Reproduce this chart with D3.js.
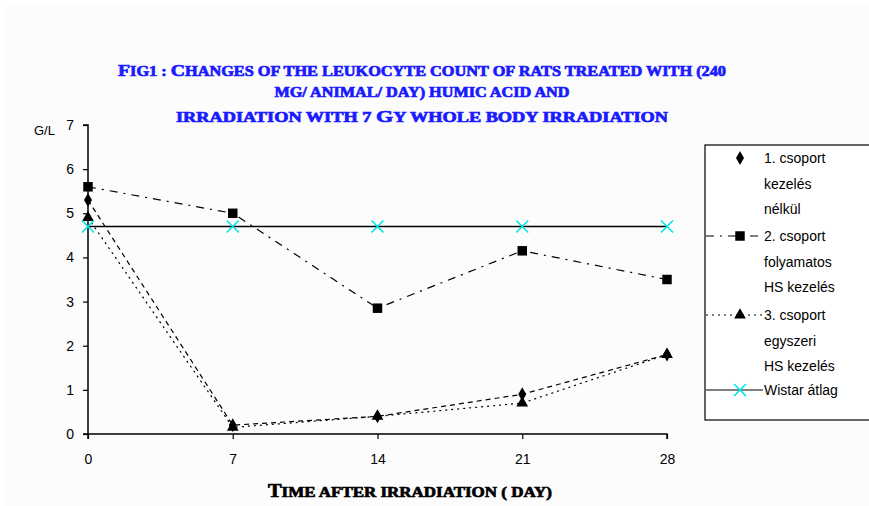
<!DOCTYPE html>
<html><head><meta charset="utf-8">
<script src="https://cdn.jsdelivr.net/npm/d3@7"></script>
<style>body{margin:0;background:#fff}svg{display:block}</style>
</head><body><svg id="c" width="869" height="506"></svg>
<script>
const days = [0, 7, 14, 21, 28];
const xTicks = [0, 7, 14, 21, 28];
const yTicks = [0, 1, 2, 3, 4, 5, 6, 7];
const group1 = [5.3, 0.2, 0.4, 0.9, 1.8];
const group2 = [5.6, 5.0, 2.85, 4.15, 3.5];
const group3 = [4.9, 0.15, 0.4, 0.7, 1.8];
const wistar = [4.7, 4.7, 4.7, 4.7, 4.7];
const titleLines = ["Fig1 : Changes of the leukocyte count of rats treated with (240",
  "mg/ animal/ day) humic acid and",
  "irradiation with 7  Gy whole body irradiation"];
const xTitle = "Time after irradiation ( day)";
const yTitle = "G/L";
const legendLines = [
  ["1. csoport", "kezelés", "nélkül"],
  ["2. csoport", "folyamatos", "HS kezelés"],
  ["3. csoport", "egyszeri", "HS kezelés"],
  ["Wistar átlag"]
];

const svg = d3.select("#c");
svg.append("rect").attr("x",5).attr("y",6).attr("width",864).attr("height",500).attr("fill","#fcfcfc");

const x = d3.scaleLinear().domain([0, 28]).range([88, 667]);
const y = d3.scaleLinear().domain([0, 7]).range([434, 125]);

function capsText(sel, str, big, small){
  str.split(" ").forEach((w, i) => {
    if (i > 0) sel.append("tspan").attr("font-size", small).text(" ");
    const first = w.charAt(0), rest = w.slice(1);
    const isUpper = first !== first.toLowerCase();
    sel.append("tspan").attr("font-size", isUpper ? big : small).text(first.toUpperCase());
    if (rest) sel.append("tspan").attr("font-size", small).text(rest.toUpperCase());
  });
}

// title
const tl = [{t:titleLines[0], y:76, w:608}, {t:titleLines[1], y:97, w:295}, {t:titleLines[2], y:122, w:492}];
tl.forEach(d => {
  const t = svg.append("text").attr("x", 422).attr("y", d.y).attr("text-anchor","middle")
    .attr("font-family","Liberation Serif").attr("font-weight","bold")
    .attr("fill","#1a1aff").attr("stroke","#1a1aff").attr("stroke-width",0.7)
    .attr("textLength", d.w).attr("lengthAdjust","spacingAndGlyphs");
  capsText(t, d.t, 17, 14);
});

// axes
const gx = svg.append("g").attr("transform","translate(0,434)")
  .call(d3.axisBottom(x).tickValues(xTicks).tickFormat(d3.format("d")).tickSize(5).tickPadding(15));
const gy = svg.append("g").attr("transform","translate(88,0)")
  .call(d3.axisLeft(y).tickValues(yTicks).tickFormat(d3.format("d")).tickSize(5).tickPadding(9));
[gx, gy].forEach(g => {
  g.select(".domain").attr("stroke","#000").attr("stroke-width",1.5);
  g.selectAll(".tick line").attr("stroke","#000").attr("stroke-width",1.2);
  g.selectAll(".tick text").attr("font-family","Liberation Sans").attr("font-size",14).attr("fill","#000");
});
gx.select(".domain").attr("d","M88,5V0H667V5");
gy.select(".domain").attr("d","M-5,125H0V434H-5");

svg.append("text").attr("x",34).attr("y",135).attr("font-family","Liberation Sans").attr("font-size",13).text(yTitle);
const xt = svg.append("text").attr("x",410).attr("y",497).attr("text-anchor","middle")
  .attr("font-family","Liberation Serif").attr("font-weight","bold")
  .attr("stroke","#000").attr("stroke-width",0.7)
  .attr("textLength",284).attr("lengthAdjust","spacingAndGlyphs");
capsText(xt, xTitle, 18, 15);

const line = d3.line().x((d,i)=>x(days[i])).y(d=>y(d));
const series = [
  {v:group1, dash:"5,4", sym:d3.symbolDiamond, size:55, legendLine:false},
  {v:group2, dash:"8,6,2,6", sym:d3.symbolSquare, size:90, legendLine:true},
  {v:group3, dash:"2,4", sym:d3.symbolTriangle, size:60, legendLine:true},
  {v:wistar, dash:null, sym:null, size:0, legendLine:true, x:true}
];
series.forEach(s => {
  svg.append("path").attr("d", line(s.v)).attr("fill","none").attr("stroke","#000")
    .attr("stroke-width", s.x ? 1.5 : 1.2).attr("stroke-dasharray", s.dash);
});
function drawMarker(g, s, cx, cy){
  if (s.x) {
    g.append("path").attr("d",`M${cx-6},${cy-6}L${cx+6},${cy+6}M${cx-6},${cy+6}L${cx+6},${cy-6}`)
      .attr("stroke","#00e5e5").attr("stroke-width",1.6);
  } else {
    g.append("path").attr("d", d3.symbol(s.sym, s.size)()).attr("transform",`translate(${cx},${cy})`).attr("fill","#000");
  }
}
series.forEach(s => s.v.forEach((v,i)=>drawMarker(svg, s, x(days[i]), y(v))));

// legend
svg.append("rect").attr("x",705).attr("y",145).attr("width",180).attr("height",275)
  .attr("fill","#fff").attr("stroke","#000").attr("stroke-width",1.2);
const legY = [158, 236, 315, 390];
series.forEach((s,k) => {
  const cy = legY[k];
  if (s.legendLine) svg.append("line").attr("x1",706).attr("x2",763).attr("y1",cy).attr("y2",cy)
    .attr("stroke","#000").attr("stroke-width",1.2).attr("stroke-dasharray",s.dash);
  drawMarker(svg, s, 740, cy);
  legendLines[k].forEach((t,j)=>{
    svg.append("text").attr("x",764).attr("y",cy+5+j*25.5).attr("font-family","Liberation Sans")
      .attr("font-size",14).text(t);
  });
});
</script></body></html>
